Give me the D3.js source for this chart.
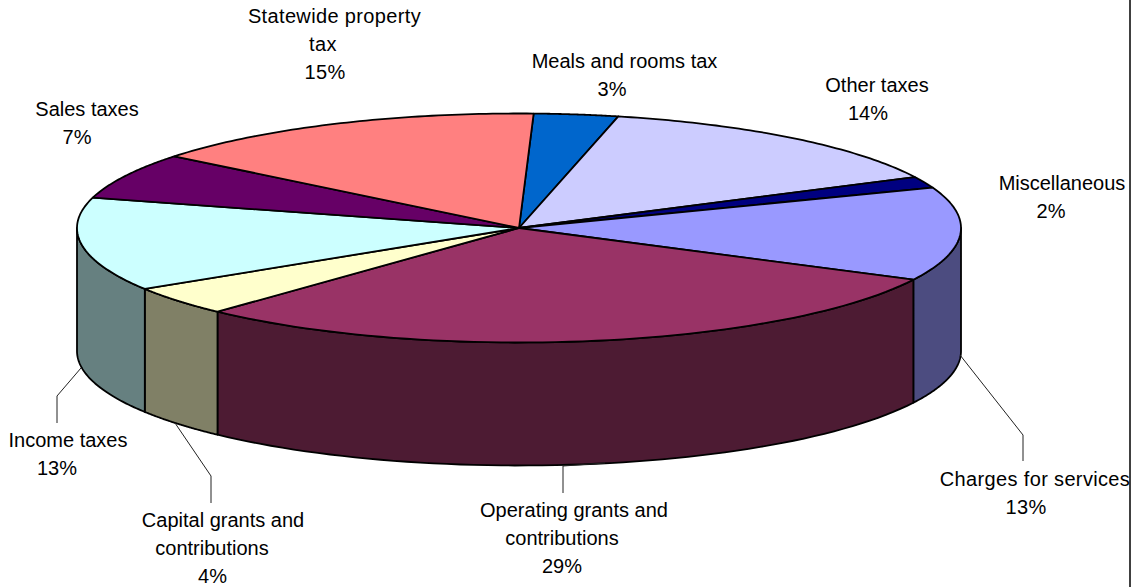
<!DOCTYPE html>
<html>
<head>
<meta charset="utf-8">
<script src="https://cdn.jsdelivr.net/npm/d3@7/dist/d3.min.js"></script>
<style>
  html, body { margin: 0; padding: 0; background: #fff; }
  svg { display: block; }
  text { font-family: "Liberation Sans", Arial, sans-serif; font-size: 20px; fill: #000; text-anchor: middle; }
</style>
</head>
<body>
<svg id="chart" width="1136" height="587"></svg>
<script>
// Revenue shares in percent, clockwise from just past twelve o'clock
const categories = ["Meals and rooms tax", "Other taxes", "Miscellaneous", "Charges for services",
  "Operating grants and contributions", "Capital grants and contributions", "Income taxes",
  "Sales taxes", "Statewide property tax"];
const shares = [3.08, 14.05, 1.6, 13.2, 29.49, 4.12, 13.2, 6.5, 14.76];
const topColors = ["#0066cc", "#ccccff", "#000080", "#9999ff", "#993366", "#ffffcc", "#ccffff", "#660066", "#ff8080"];
const wallColors = ["#003366", "#666680", "#000040", "#4c4c80", "#4d1b33", "#808066", "#668080", "#330033", "#804040"];

// Wrapped name lines; the rounded percentage is appended as a last line
const nameLines = [
  ["Meals and rooms tax"],
  ["Other taxes"],
  ["Miscellaneous"],
  ["Charges for services"],
  ["Operating grants and", "contributions"],
  ["Capital grants and", "contributions"],
  ["Income taxes"],
  ["Sales taxes"],
  ["Statewide property", "tax"]
];
// Horizontal centre of each label line, and the first baseline
const labelX = [[624.5, 612], [877, 868], [1062, 1051], [1035, 1026], [574, 562, 562],
  [223, 212, 212.5], [68, 57], [87, 77], [334.5, 323, 325]];
const labelY = [68, 92, 190, 486, 517, 527, 447, 116, 23];
const labelTracking = [0, 0, 0, 0.35, 0, 0, 0, 0, 0.36];
const lineStep = 28;

// Leader lines for the labels sitting below the pie
const leaders = [
  [[960, 355], [1023, 435], [1023, 461]],
  [[605, 463], [563, 466], [563, 493]],
  [[175, 423], [211, 476], [211, 503]],
  [[81, 368], [57, 396], [57, 423]]
];

const cx = 519, cy = 228, rx = 442, ry = 114.5, depth = 123;
const firstAngle = 1.9 * Math.PI / 180;

const svg = d3.select("#chart");
const slices = d3.pie().sort(null).startAngle(firstAngle).endAngle(firstAngle + 2 * Math.PI)(shares);

const px = a => cx + rx * Math.sin(a);
const py = a => cy - ry * Math.cos(a);
const line = d3.line();

// Points along the rim between two angles
const rim = (a0, a1, dy = 0) => d3.range(0, 61).map(i => {
  const a = a0 + (a1 - a0) * i / 60;
  return [px(a), py(a) + dy];
});

// Outer wall: only the part of the rim facing the viewer
const wallStart = Math.PI / 2, wallEnd = 3 * Math.PI / 2;
svg.append("g").selectAll("path")
  .data(slices.filter(d => d.endAngle > wallStart && d.startAngle < wallEnd))
  .join("path")
  .attr("d", d => {
    const a0 = Math.max(d.startAngle, wallStart), a1 = Math.min(d.endAngle, wallEnd);
    return line([...rim(a0, a1), ...rim(a1, a0, depth)]) + "Z";
  })
  .attr("fill", d => wallColors[d.index])
  .attr("stroke", "#000")
  .attr("stroke-width", 1.8)
  .attr("stroke-linejoin", "round");

// Top face
svg.append("g").selectAll("path")
  .data(slices)
  .join("path")
  .attr("d", d => line([[cx, cy], ...rim(d.startAngle, d.endAngle)]) + "Z")
  .attr("fill", d => topColors[d.index])
  .attr("stroke", "#000")
  .attr("stroke-width", 1.8)
  .attr("stroke-linejoin", "round");

// Leader lines
svg.append("g").selectAll("path")
  .data(leaders)
  .join("path")
  .attr("d", d => line(d))
  .attr("fill", "none")
  .attr("stroke", "#222")
  .attr("stroke-width", 1);

// Labels: name lines followed by the share
const labels = svg.append("g").selectAll("text")
  .data(categories)
  .join("text")
  .attr("y", (d, i) => labelY[i])
  .attr("letter-spacing", (d, i) => labelTracking[i]);
labels.selectAll("tspan")
  .data((d, i) => [...nameLines[i], `${Math.round(shares[i])}%`]
    .map((t, j) => ({ t, j, x: labelX[i][j] })))
  .join("tspan")
  .attr("x", d => d.x)
  .attr("dy", d => d.j ? lineStep : 0)
  .text(d => d.t);

// Right edge of the chart frame
svg.append("line")
  .attr("x1", 1130).attr("x2", 1130)
  .attr("y1", 0).attr("y2", 587)
  .attr("stroke", "#000")
  .attr("stroke-width", 1.5);
</script>
</body>
</html>
